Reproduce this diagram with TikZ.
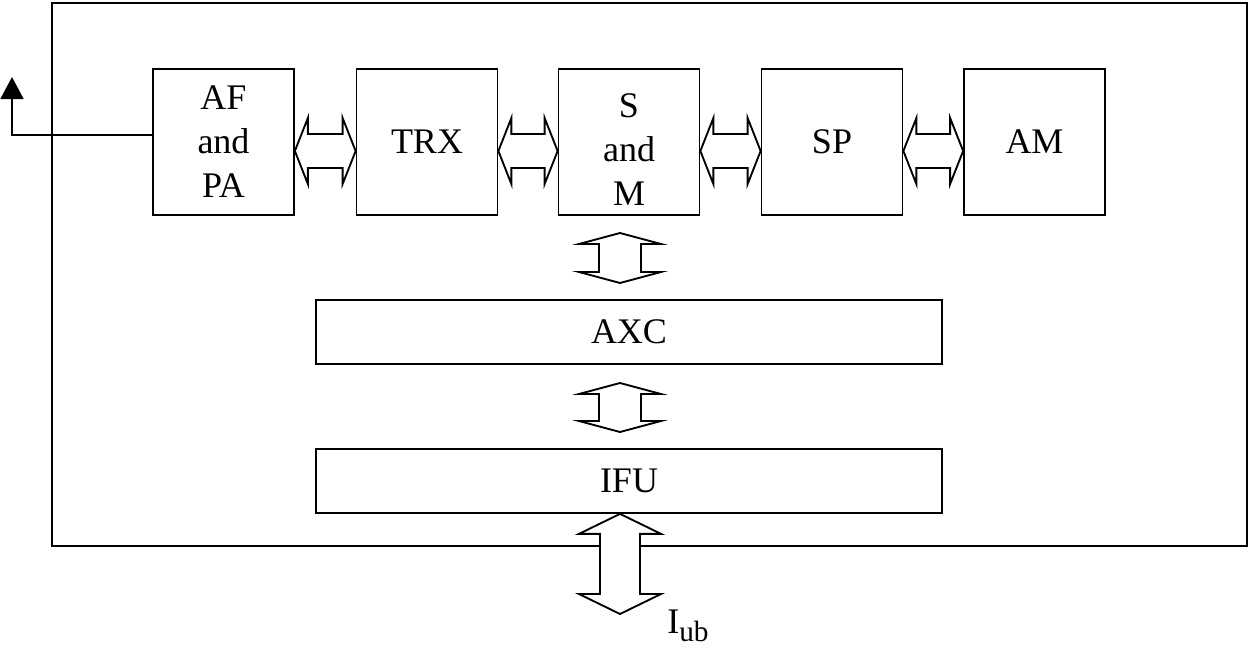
\documentclass[tikz,border=0pt]{standalone}
\usepackage{fontspec}
\setmainfont{Liberation Serif}
\usetikzlibrary{calc,arrows.meta}
\tikzset{
  blk/.style={draw, line width=1.3pt, inner sep=0pt, align=center,
    font=\fontsize{27}{33}\selectfont, minimum width=105.75pt, minimum height=109.5pt},
  wide/.style={blk, minimum width=469.5pt, minimum height=48pt},
  hollow/.style={draw, fill=white, line width=1.4pt, line join=miter},
  frame/.style={draw, line width=1.3pt},
}
\newcommand\hdarr[2]{\path[hollow] let \p1=($(#1.east)+(0,9)$), \p2=($(#2.west)+(0,9)$) in
  (\x1,\y1) -- (\x1+9.75pt,\y1+24.75pt) -- (\x1+9.75pt,\y1+12.75pt) -- (\x2-9.75pt,\y1+12.75pt)
  -- (\x2-9.75pt,\y1+24.75pt) -- (\x2,\y1) -- (\x2-9.75pt,\y1-24.75pt) -- (\x2-9.75pt,\y1-12.75pt)
  -- (\x1+9.75pt,\y1-12.75pt) -- (\x1+9.75pt,\y1-24.75pt) -- cycle;}
\newcommand\vdarr[5]{\path[hollow] let \p1=(#1), \p2=(#2) in
  (\x1,\y1) -- (\x1+#4,\y1-#3) -- (\x1+#5,\y1-#3) -- (\x1+#5,\y2+#3) -- (\x1+#4,\y2+#3)
  -- (\x1,\y2) -- (\x1-#4,\y2+#3) -- (\x1-#5,\y2+#3) -- (\x1-#5,\y1-#3) -- (\x1-#4,\y1-#3) -- cycle;}
\begin{document}
\begin{tikzpicture}[x=0.75pt, y=-0.75pt]
\useasboundingbox (0,0) rectangle (1250,650);
\draw[frame] (52,3) rectangle (1247,546);
\node[blk] (af) at (223.5,142) {AF\\and\\PA};
\node[blk] (trx) at (427,142) {TRX};
\node[blk, text depth=3.5pt] (sm) at (629,142) {\\[-0.5pt]S\\and\\M};
\node[blk] (sp) at (832,142) {SP};
\node[blk] (am) at (1034.5,142) {AM};
\node[wide] (axc) at (629,332) {AXC};
\node[wide] (ifu) at (629,481) {IFU};
\hdarr{af}{trx}
\hdarr{trx}{sm}
\hdarr{sm}{sp}
\hdarr{sp}{am}
\coordinate (v1t) at (620,233);
\coordinate (v1b) at (620,283);
\coordinate (v2t) at (620,383);
\coordinate (v2b) at (620,432);
\coordinate (v3t) at ($(ifu.south)+(-9,0)$);
\coordinate (v3b) at (620,614);
\vdarr{v1t}{v1b}{8.25pt}{30.75pt}{15.75pt}
\vdarr{v2t}{v2b}{8.25pt}{30.75pt}{15.75pt}
\vdarr{v3t}{v3b}{15pt}{30.75pt}{15pt}
\coordinate (ant) at (12,77);
\draw[line width=1.3pt, -{Triangle[length=16.5pt,width=17.25pt]}] ($(af.west)+(0,-7)$) -| (ant);
\node[anchor=base west, inner sep=0pt, font=\fontsize{27}{33}\selectfont] (iub) at (667,633)
  {I\raisebox{-6pt}{\fontsize{22}{26}\selectfont ub}};
\end{tikzpicture}
\end{document}
